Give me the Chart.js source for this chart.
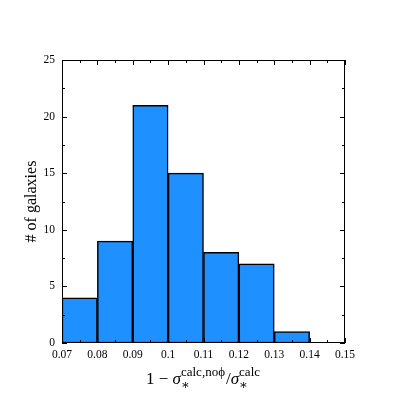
<!DOCTYPE html>
<html>
<head>
<meta charset="utf-8">
<script src="https://cdn.jsdelivr.net/npm/chart.js@4/dist/chart.umd.min.js"></script>
<style>
  html, body { margin: 0; padding: 0; background: #fff; }
  #wrap { width: 407px; height: 407px; }
</style>
</head>
<body>
<div id="wrap"><canvas id="hist" width="407" height="407"></canvas></div>
<script>
// histogram bins (left edges) and counts
const binStarts = [0.07, 0.08, 0.09, 0.10, 0.11, 0.12, 0.13];
const counts = [4, 9, 21, 15, 8, 7, 1];
const binWidth = 0.01;
const xTicks = [0.07, 0.08, 0.09, 0.1, 0.11, 0.12, 0.13, 0.14, 0.15];
const yTicks = [0, 5, 10, 15, 20, 25];
const yTitle = '# of galaxies';

const FONT = "'Liberation Serif', 'DejaVu Serif', serif";

// frame + inward ticks (major and minor) on all four sides
const framePlugin = {
    id: 'frame',
    afterDatasetsDraw(chart) {
        const ctx = chart.ctx;
        const a = chart.chartArea;
        const xs = chart.scales.x, ys = chart.scales.y;
        ctx.save();
        ctx.strokeStyle = '#000';
        ctx.lineWidth = 1;
        ctx.strokeRect(a.left + 0.5, a.top + 0.5, a.right - a.left - 1, a.bottom - a.top - 1);

        ctx.beginPath();
        for (let i = 0; i < xTicks.length; i++) {
            const px = Math.round(xs.getPixelForValue(xTicks[i])) + 0.5;
            ctx.moveTo(px, a.bottom); ctx.lineTo(px, a.bottom - 5);
            ctx.moveTo(px, a.top); ctx.lineTo(px, a.top + 5);
            if (i < xTicks.length - 1) {
                const mx = Math.round(xs.getPixelForValue(xTicks[i] + binWidth / 2)) + 0.5;
                ctx.moveTo(mx, a.bottom); ctx.lineTo(mx, a.bottom - 3);
                ctx.moveTo(mx, a.top); ctx.lineTo(mx, a.top + 3);
            }
        }
        for (let i = 0; i < yTicks.length; i++) {
            const py = Math.round(ys.getPixelForValue(yTicks[i])) + 0.5;
            ctx.moveTo(a.left, py); ctx.lineTo(a.left + 5, py);
            ctx.moveTo(a.right, py); ctx.lineTo(a.right - 5, py);
            if (i < yTicks.length - 1) {
                const my = Math.round(ys.getPixelForValue(yTicks[i] + 2.5)) + 0.5;
                ctx.moveTo(a.left, my); ctx.lineTo(a.left + 3, my);
                ctx.moveTo(a.right, my); ctx.lineTo(a.right - 3, my);
            }
        }
        ctx.stroke();

        // axis titles
        ctx.fillStyle = '#000';
        ctx.save();
        ctx.translate(32, (a.top + a.bottom) / 2);
        ctx.rotate(-Math.PI / 2);
        ctx.font = '16px ' + FONT;
        ctx.textAlign = 'center';
        ctx.textBaseline = 'middle';
        ctx.fillText(yTitle, 0, 0);
        ctx.restore();

        // x title: 1 − σ*^{calc,noφ} / σ*^{calc}
        const parts = [
            { t: '1 \u2212 ', f: '17px ' + FONT },
            { t: '\u03c3', f: 'italic 17px ' + FONT, sub: '\u2217', sup: 'calc,no\u03d5' },
            { t: '/', f: '17px ' + FONT },
            { t: '\u03c3', f: 'italic 17px ' + FONT, sub: '\u2217', sup: 'calc' }
        ];
        const small = '13px ' + FONT;
        let total = 0;
        parts.forEach(p => {
            ctx.font = p.f;
            p.w = ctx.measureText(p.t).width;
            if (p.sup) {
                ctx.font = small;
                p.sw = Math.max(ctx.measureText(p.sup).width, ctx.measureText(p.sub).width) + 1;
            } else p.sw = 0;
            total += p.w + p.sw;
        });
        let x = (a.left + a.right) / 2 - total / 2;
        const base = 384;
        ctx.textAlign = 'left';
        ctx.textBaseline = 'alphabetic';
        parts.forEach(p => {
            ctx.font = p.f;
            ctx.fillText(p.t, x, base);
            x += p.w;
            if (p.sup) {
                ctx.font = small;
                ctx.fillText(p.sup, x, base - 8);
                ctx.fillText(p.sub, x, base + 5);
                x += p.sw;
            }
        });
        ctx.restore();
    }
};

const barData = binStarts.map((b, i) => ({ x: b + binWidth / 2, y: counts[i] }));

new Chart(document.getElementById('hist').getContext('2d'), {
    type: 'bar',
    data: {
        datasets: [{
            data: barData,
            backgroundColor: '#1E90FF',
            borderColor: '#000',
            borderWidth: 1.5,
            borderSkipped: false,
            barPercentage: 1,
            categoryPercentage: 1
        }]
    },
    options: {
        responsive: false,
        animation: false,
        layout: { padding: { left: 0, top: 60, right: 62, bottom: 0 } },
        plugins: { legend: { display: false }, tooltip: { enabled: false } },
        scales: {
            x: {
                type: 'linear',
                offset: false,
                min: 0.07,
                max: 0.15,
                grid: { display: false, drawTicks: false },
                border: { display: false },
                afterFit: s => { s.height = 64; },
                afterBuildTicks: s => { s.ticks = xTicks.map(v => ({ value: v })); },
                ticks: {
                    padding: 5,
                    maxRotation: 0,
                    autoSkip: false,
                    color: '#000',
                    font: { family: FONT, size: 11.5 },
                    callback: v => String(+v.toFixed(2))
                }
            },
            y: {
                min: 0,
                max: 25,
                grid: { display: false, drawTicks: false },
                border: { display: false },
                afterFit: s => { s.width = 62; },
                afterBuildTicks: s => { s.ticks = yTicks.map(v => ({ value: v })); },
                ticks: {
                    padding: 7,
                    color: '#000',
                    font: { family: FONT, size: 11.5 }
                }
            }
        }
    },
    plugins: [framePlugin]
});
</script>
</body>
</html>
